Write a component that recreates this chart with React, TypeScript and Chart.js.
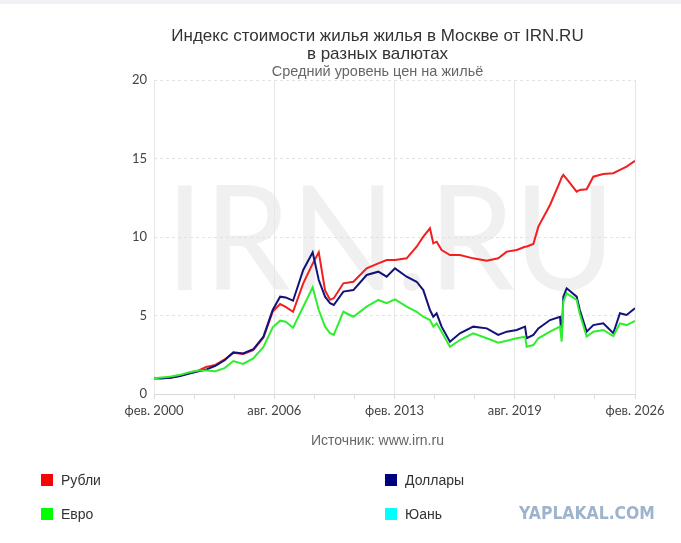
import React, { useEffect, useRef } from 'react';
import { Chart, registerables } from 'chart.js';
Chart.register(...registerables);

// Dates as fractional years
const dates = [
  2000.08, 2000.5, 2001.0, 2001.5, 2002.0, 2002.5, 2002.9, 2003.4, 2003.9, 2004.37,
  2004.9, 2005.45, 2006.0, 2006.5, 2006.9, 2007.2, 2007.6, 2008.15, 2008.66, 2008.99,
  2009.33, 2009.6, 2009.8, 2010.32, 2010.86, 2011.58, 2012.21, 2012.66, 2013.11, 2013.74,
  2014.28, 2014.64, 2015.0, 2015.18, 2015.36, 2015.63, 2016.08, 2016.62, 2017.34, 2018.07,
  2018.69, 2019.15, 2019.69, 2020.14, 2020.23, 2020.59, 2020.86, 2021.49, 2022.03, 2022.12,
  2022.21, 2022.39, 2022.93, 2023.1, 2023.47, 2023.83, 2024.37, 2024.91, 2025.27, 2025.63,
  2026.08,
];
const rubles = [
  1.0, 0.98, 1.05, 1.18, 1.35, 1.5, 1.72, 1.85, 2.2, 2.62,
  2.55, 2.8, 3.6, 5.25, 5.73, 5.55, 5.24, 7.05, 8.3, 9.02,
  6.6, 6.0, 6.1, 7.05, 7.15, 8.0, 8.32, 8.53, 8.53, 8.64,
  9.38, 10.02, 10.55, 9.6, 9.7, 9.17, 8.85, 8.85, 8.64, 8.49,
  8.64, 9.07, 9.17, 9.38, 9.4, 9.55, 10.66, 12.04, 13.52, 13.8,
  13.95, 13.7, 12.89, 13.0, 13.04, 13.84, 14.01, 14.06, 14.27, 14.48,
  14.85,
];
const dollars = [
  1.0, 1.0, 1.03, 1.15, 1.3, 1.45, 1.55, 1.8, 2.15, 2.65,
  2.58, 2.85, 3.65, 5.35, 6.2, 6.15, 5.94, 7.9, 9.02, 7.26,
  6.2, 5.78, 5.67, 6.52, 6.62, 7.58, 7.79, 7.47, 8.0, 7.47,
  7.15, 6.62, 5.35, 4.92, 5.14, 4.29, 3.33, 3.87, 4.29, 4.18,
  3.76, 3.97, 4.08, 4.29, 3.55, 3.76, 4.18, 4.71, 4.92, 3.65,
  6.2, 6.73, 6.2, 5.35, 3.97, 4.39, 4.5, 3.87, 5.14, 5.03,
  5.46,
];
const euros = [
  1.0, 1.05, 1.12, 1.22, 1.38, 1.5, 1.5, 1.45, 1.65, 2.1,
  1.92, 2.27, 3.0, 4.25, 4.67, 4.6, 4.22, 5.56, 6.8, 5.35,
  4.29, 3.87, 3.76, 5.24, 4.92, 5.56, 5.99, 5.78, 6.03, 5.56,
  5.24, 4.92, 4.71, 4.29, 4.5, 3.97, 3.01, 3.44, 3.87, 3.55,
  3.27, 3.39, 3.55, 3.65, 3.01, 3.12, 3.55, 3.97, 4.29, 3.33,
  5.9, 6.41, 5.99, 5.1, 3.65, 3.97, 4.08, 3.69, 4.5, 4.39,
  4.65,
];
const yuan: number[] = [];

const seriesNames = ['Рубли', 'Доллары', 'Евро', 'Юань'];
const seriesColors = ['#ff0000', '#000080', '#00ff00', '#00ffff'];
const lineColors = ['#f31f1f', '#12127c', '#2fee2f', '#1ff0f0'];

const xTickLabels = ['фев. 2000', 'авг. 2006', 'фев. 2013', 'авг. 2019', 'фев. 2026'];
const xStart = 2000 + 1 / 12;
const xMajorStep = 6.5;
const xMinorPerMajor = 3;
const yMax = 20;
const yStep = 5;

const titleLines = ['Индекс стоимости жилья жилья в Москве от IRN.RU', 'в разных валютах'];
const subtitleText = 'Средний уровень цен на жильё';
const sourceText = 'Источник: www.irn.ru';
const watermarkText = 'IRN.RU';

const toPoints = (vals: number[]) => vals.map((v, i) => ({ x: dates[i], y: v }));

const watermarkPlugin = {
  id: 'watermark',
  beforeDraw(chart: any) {
    const { ctx, chartArea } = chart;
    ctx.save();
    ctx.font = '400 146px Lato';
    ctx.fillStyle = '#f0f0f0';
    ctx.textAlign = 'center';
    ctx.textBaseline = 'alphabetic';
    const cx = (chartArea.left + chartArea.right) / 2 - 4;
    const w = ctx.measureText(watermarkText).width;
    const s = 450 / w;
    ctx.translate(cx, 290);
    ctx.scale(s, 1);
    ctx.fillText(watermarkText, 0, 0);
    ctx.restore();
  },
};

export default function App() {
  const ref = useRef<HTMLCanvasElement>(null);
  useEffect(() => {
    if (!ref.current) return;
    const data = [rubles, dollars, euros, yuan];
    const chart = new Chart(ref.current, {
      type: 'line',
      data: {
        datasets: data.map((vals, i) => ({
          label: seriesNames[i],
          data: toPoints(vals),
          borderColor: lineColors[i],
          backgroundColor: seriesColors[i],
          borderWidth: 2,
          pointRadius: 0,
          tension: 0,
          order: [2, 1, 0, 3][i],
        })),
      },
      options: {
        responsive: false,
        animation: false,
        layout: { padding: { left: 120, right: 46, top: 80, bottom: 119 } },
        plugins: { legend: { display: false }, tooltip: { enabled: false }, title: { display: false } },
        scales: {
          x: {
            type: 'linear',
            min: xStart,
            max: xStart + xMajorStep * (xTickLabels.length - 1),
            afterBuildTicks: (scale: any) => {
              const n = (xTickLabels.length - 1) * xMinorPerMajor;
              const t = [];
              for (let k = 0; k <= n; k++) t.push({ value: xStart + (k * xMajorStep) / xMinorPerMajor });
              scale.ticks = t;
            },
            afterFit: (scale: any) => {
              scale.height = 30;
            },
            ticks: {
              autoSkip: false,
              maxRotation: 0,
              padding: 4,
              color: '#444',
              font: { family: 'Lato', size: 13 },
              callback: (_v: any, idx: number) =>
                idx % xMinorPerMajor === 0 ? xTickLabels[idx / xMinorPerMajor] : '',
            },
            grid: {
              color: (ctx: any) => (ctx.index % xMinorPerMajor === 0 ? '#e6e6e6' : 'rgba(0,0,0,0)'),
              tickColor: '#dcdcdc',
              tickLength: 5,
              lineWidth: 1,
            },
            border: { display: false },
          },
          y: {
            min: 0,
            max: yMax,
            afterFit: (scale: any) => {
              scale.width = 34;
            },
            ticks: {
              stepSize: yStep,
              padding: 7,
              color: '#444',
              font: { family: 'Lato', size: 13 },
            },
            grid: {
              color: (ctx: any) => (ctx.tick && ctx.tick.value === 0 ? '#d8d8d8' : '#e2e2e2'),
              drawTicks: false,
            },
            border: {
              display: false,
              dash: (ctx: any) => (ctx.tick && ctx.tick.value === 0 ? [] : [3, 3]),
            },
          },
        },
      },
      plugins: [watermarkPlugin],
    } as any);
    return () => chart.destroy();
  }, []);

  const textFont = "'Liberation Sans', Arial, sans-serif";
  return (
    <div style={{ position: 'fixed', left: 0, top: 0, width: 681, height: 543, background: '#fff', overflow: 'hidden', fontFamily: textFont }}>
      <div style={{ position: 'absolute', left: 0, top: 0, width: 681, height: 4, background: '#f0f0f5' }} />
      <canvas ref={ref} width={681} height={543} style={{ position: 'absolute', left: 0, top: 0 }} />
      <div style={{ position: 'absolute', left: 120, width: 515, top: 27, textAlign: 'center', fontSize: 17, lineHeight: '18px', color: '#333' }}>
        {titleLines.map((t, i) => (
          <div key={i}>{t}</div>
        ))}
      </div>
      <div style={{ position: 'absolute', left: 120, width: 515, top: 62, textAlign: 'center', fontSize: 14.5, lineHeight: '18px', color: '#666' }}>
        {subtitleText}
      </div>
      <div style={{ position: 'absolute', left: 120, width: 515, top: 431, textAlign: 'center', fontSize: 14, lineHeight: '18px', color: '#666' }}>
        {sourceText}
      </div>
      <div style={{ position: 'absolute', left: 41, top: 471, display: 'grid', gridTemplateColumns: '344px 200px', gridAutoRows: '34px' }}>
        {seriesNames.map((n, i) => (
          <div key={n} style={{ display: 'flex', alignItems: 'center', height: 18 }}>
            <span style={{ display: 'inline-block', width: 12, height: 12, background: seriesColors[i], marginRight: 8 }} />
            <span style={{ fontSize: 14, color: '#333' }}>{n}</span>
          </div>
        ))}
      </div>
      <div style={{ position: 'absolute', left: 519, top: 503, fontSize: 17, lineHeight: '20px', fontWeight: 'bold', color: '#9db4cc', fontFamily: "'DejaVu Sans', sans-serif", transform: 'scaleX(0.92)', transformOrigin: 'left center', whiteSpace: 'nowrap' }}>
        YAPLAKAL.COM
      </div>
    </div>
  );
}
